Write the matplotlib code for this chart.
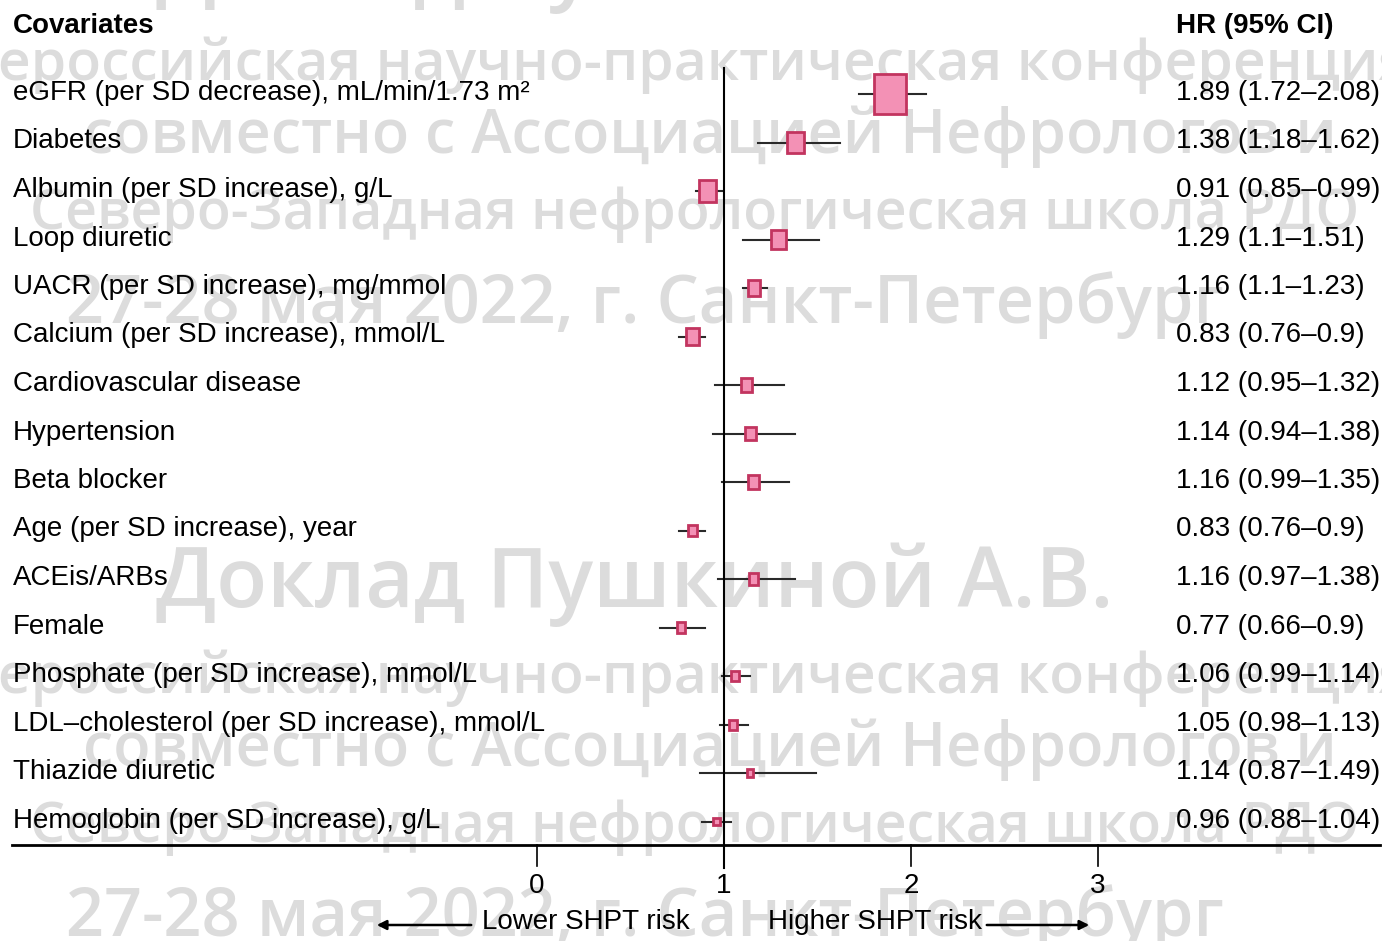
import matplotlib
matplotlib.use("Agg")
import matplotlib.pyplot as plt
from matplotlib.patches import Rectangle

# -----------------------------
# Data
# -----------------------------
labels = [
    "eGFR (per SD decrease), mL/min/1.73 m\u00b2",
    "Diabetes",
    "Albumin (per SD increase), g/L",
    "Loop diuretic",
    "UACR (per SD increase), mg/mmol",
    "Calcium (per SD increase), mmol/L",
    "Cardiovascular disease",
    "Hypertension",
    "Beta blocker",
    "Age (per SD increase), year",
    "ACEis/ARBs",
    "Female",
    "Phosphate (per SD increase), mmol/L",
    "LDL\u2013cholesterol (per SD increase), mmol/L",
    "Thiazide diuretic",
    "Hemoglobin (per SD increase), g/L",
]
hr = [1.89, 1.38, 0.91, 1.29, 1.16, 0.83, 1.12, 1.14, 1.16, 0.83, 1.16, 0.77, 1.06, 1.05, 1.14, 0.96]
ci_low = [1.72, 1.18, 0.85, 1.1, 1.1, 0.76, 0.95, 0.94, 0.99, 0.76, 0.97, 0.66, 0.99, 0.98, 0.87, 0.88]
ci_high = [2.08, 1.62, 0.99, 1.51, 1.23, 0.9, 1.32, 1.38, 1.35, 0.9, 1.38, 0.9, 1.14, 1.13, 1.49, 1.04]
# relative study weight (box size, eGFR = 1)
weight = [1.0, 0.53, 0.53, 0.47, 0.38, 0.41, 0.34, 0.34, 0.34, 0.28, 0.28, 0.28, 0.25, 0.25, 0.19, 0.19]
x_ticks = [0, 1, 2, 3]

watermark = [
    "Доклад Пушкиной А.В.",
    "Всероссийская научно-практическая конференция",
    "совместно с Ассоциацией Нефрологов и",
    "Северо-Западная нефрологическая школа РДО",
    "27-28 мая 2022, г. Санкт-Петербург",
]

# -----------------------------
# Styles
# -----------------------------
W, H = 1382, 941
PX_X = 187.0      # pixels per HR unit
PX_Y = 48.5       # pixels per row
X0_PX = 537       # pixel of HR = 0
Y0_PX = 94        # pixel of first row
FONT = ["Liberation Sans Narrow", "Liberation Sans", "DejaVu Sans"]
FS = 20
BOX_FACE = "#F391B5"
BOX_EDGE = "#C2345F"
WM_COLOR = "#dcdcdc"

plt.rcParams["font.family"] = FONT

fig = plt.figure(figsize=(W / 100, H / 100), dpi=100)
ax = fig.add_axes([0, 0, 1, 1])
ax.axis("off")
ax.patch.set_alpha(0)
ax.set_zorder(1)
ax.set_xlim(-X0_PX / PX_X, (W - X0_PX) / PX_X)
ax.set_ylim((H - Y0_PX) / PX_Y, -Y0_PX / PX_Y)

def py(p):
    return (p - Y0_PX) / PX_Y

def px(p):
    return (p - X0_PX) / PX_X

# -----------------------------
# Watermark (behind everything)
# -----------------------------
wm_family = ["Open Sans", "DejaVu Sans"]
for top in [-28, 585]:
    rows = [(watermark[0], 635, top, 60),
            (watermark[1], 672, top + 93, 41),
            (watermark[2], 710, top + 165, 44),
            (watermark[3], 695, top + 243, 40),
            (watermark[4], 645, top + 333, 48)]
    for txt, cx, cy, size in rows:
        fig.text(cx / W, 1 - cy / H, txt, ha="center", va="center",
                 fontsize=size, color=WM_COLOR, fontweight="semibold",
                 family=wm_family, zorder=-1)

# -----------------------------
# Forest plot
# -----------------------------
n = len(labels)
text_off = 6 / PX_Y
for i in range(n):
    ax.plot([ci_low[i], ci_high[i]], [i, i], color="#2a2a2a", lw=1.5, zorder=2)
    bw = weight[i] * 32 / PX_X
    bh = weight[i] * 40 / PX_Y
    ax.add_patch(Rectangle((hr[i] - bw / 2, i - bh / 2), bw, bh,
                           facecolor=BOX_FACE, edgecolor=BOX_EDGE, lw=2, zorder=3))
    ax.text(px(13), i + text_off, labels[i], ha="left", va="baseline", fontsize=FS)
    ax.text(px(1176), i + text_off,
            f"{hr[i]:g} ({ci_low[i]:g}\u2013{ci_high[i]:g})",
            ha="left", va="baseline", fontsize=FS)

# headers
ax.text(px(13), py(26), "Covariates", ha="left", va="center", fontsize=FS, fontweight="bold")
ax.text(px(1176), py(26), "HR (95% CI)", ha="left", va="center", fontsize=FS, fontweight="bold")

# reference line at HR = 1 and x-axis
ax.plot([1, 1], [py(68), py(868)], color="black", lw=1.5, zorder=2)
ax.plot([px(12), px(1380)], [py(845), py(845)], color="black", lw=2, zorder=2)
for t in x_ticks:
    if t != 1:
        ax.plot([t, t], [py(845), py(866)], color="black", lw=1.2)
    ax.text(t, py(886), str(t), ha="center", va="center", fontsize=FS)

# direction arrows
ax.annotate("", xy=(px(374), py(925)), xytext=(px(474), py(925)),
            arrowprops=dict(arrowstyle="-|>", color="black", lw=1.8, mutation_scale=14))
ax.annotate("", xy=(px(1092), py(925)), xytext=(px(984), py(925)),
            arrowprops=dict(arrowstyle="-|>", color="black", lw=1.8, mutation_scale=14))
ax.text(px(690), py(922), "Lower SHPT risk", ha="right", va="center", fontsize=FS)
ax.text(px(768), py(922), "Higher SHPT risk", ha="left", va="center", fontsize=FS)

fig.savefig("out.png", dpi=100)
